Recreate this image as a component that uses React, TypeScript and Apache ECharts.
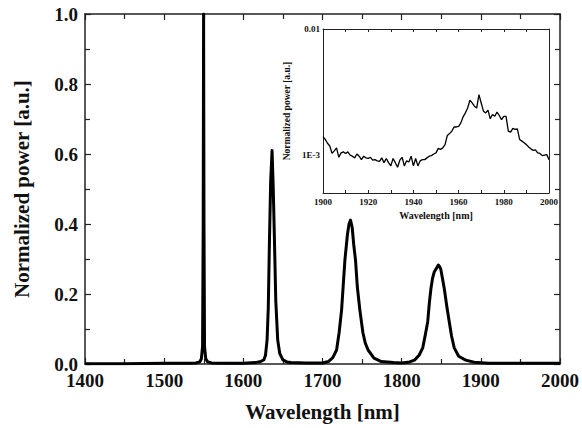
import React, { useEffect, useRef } from "react";
import * as echarts from "echarts";

// Main spectrum (wavelength in nm, normalized power)
const mainWavelength = [
  1400, 1450, 1500, 1530, 1540, 1545, 1547, 1548.5, 1549.3, 1549.8, 1550.3, 1551, 1552.5, 1555, 1560,
  1580, 1600, 1615, 1622, 1626, 1628, 1630, 1631.5, 1633, 1634.5, 1636.3, 1637.8, 1639.3, 1641, 1643.4,
  1646, 1650, 1655, 1660, 1680, 1700, 1707.4, 1713, 1717.8, 1721, 1724.1, 1728.3, 1731.5, 1733.5, 1735.4,
  1737.5, 1739.5, 1741.7, 1744, 1747.2, 1751, 1754, 1757.6, 1765, 1774.3, 1790, 1800, 1810, 1816.2, 1822,
  1826.6, 1830, 1832.9, 1835, 1837, 1839, 1841, 1843, 1844.5, 1846.3, 1848, 1849.5, 1851.5, 1853.8, 1857,
  1860.1, 1863, 1866.4, 1872, 1880.9, 1891.5, 1910, 1950, 2000,
];
const mainPower = [
  0.001, 0.001, 0.002, 0.002, 0.003, 0.006, 0.015, 0.05, 0.4, 1.0, 0.4, 0.05, 0.015, 0.006, 0.003,
  0.002, 0.002, 0.004, 0.007, 0.012, 0.025, 0.069, 0.16, 0.354, 0.52, 0.61, 0.5, 0.354, 0.18, 0.069,
  0.03, 0.012, 0.006, 0.004, 0.003, 0.003, 0.007, 0.018, 0.04, 0.09, 0.154, 0.297, 0.37, 0.4, 0.411,
  0.39, 0.34, 0.297, 0.22, 0.154, 0.09, 0.06, 0.04, 0.017, 0.007, 0.004, 0.003, 0.006, 0.011, 0.025,
  0.046, 0.085, 0.121, 0.175, 0.216, 0.245, 0.262, 0.27, 0.276, 0.283, 0.278, 0.27, 0.245, 0.216, 0.165,
  0.121, 0.08, 0.046, 0.022, 0.011, 0.005, 0.002, 0.002, 0.002,
];

// Inset spectrum (log scale)
const insetWavelength = [
  1900, 1901, 1902, 1903, 1904, 1905, 1906, 1907, 1908, 1909,
  1910, 1911, 1912, 1913, 1914, 1915, 1916, 1917, 1918, 1919,
  1920, 1921, 1922, 1923, 1924, 1925, 1926, 1927, 1928, 1929,
  1930, 1931, 1932, 1933, 1934, 1935, 1936, 1937, 1938, 1939,
  1940, 1941, 1942, 1943, 1944, 1945, 1946, 1947, 1948, 1949,
  1950, 1951, 1952, 1953, 1954, 1955, 1956, 1957, 1958, 1959,
  1960, 1961, 1962, 1963, 1964, 1965, 1966, 1967, 1968, 1969,
  1970, 1971, 1972, 1973, 1974, 1975, 1976, 1977, 1978, 1979,
  1980, 1981, 1982, 1983, 1984, 1985, 1986, 1987, 1988, 1989,
  1990, 1991, 1992, 1993, 1994, 1995, 1996, 1997, 1998, 1999,
  2000,
];
const insetPower = [
  1.40e-3, 1.33e-3, 1.24e-3, 1.18e-3, 1.03e-3, 1.08e-3, 1.14e-3, 0.96e-3, 1.04e-3, 1.06e-3,
  1.03e-3, 1.06e-3, 1.00e-3, 0.98e-3, 0.95e-3, 1.02e-3, 0.98e-3, 0.92e-3, 0.98e-3, 0.95e-3,
  0.94e-3, 0.96e-3, 0.91e-3, 0.92e-3, 0.90e-3, 0.89e-3, 0.95e-3, 0.87e-3, 0.94e-3, 0.87e-3,
  0.82e-3, 0.94e-3, 0.87e-3, 0.80e-3, 0.91e-3, 0.96e-3, 0.82e-3, 0.90e-3, 0.88e-3, 0.98e-3,
  0.82e-3, 0.94e-3, 0.82e-3, 0.90e-3, 0.92e-3, 0.92e-3, 0.95e-3, 0.98e-3, 0.99e-3, 1.02e-3,
  1.04e-3, 1.13e-3, 1.11e-3, 1.14e-3, 1.21e-3, 1.43e-3, 1.48e-3, 1.55e-3, 1.67e-3, 1.67e-3,
  1.69e-3, 1.80e-3, 2.01e-3, 2.16e-3, 2.36e-3, 2.72e-3, 2.59e-3, 2.44e-3, 2.36e-3, 3.01e-3,
  2.59e-3, 2.23e-3, 2.16e-3, 2.27e-3, 1.94e-3, 2.10e-3, 2.03e-3, 2.19e-3, 2.06e-3, 1.91e-3,
  2.03e-3, 2.03e-3, 1.55e-3, 1.52e-3, 1.63e-3, 1.60e-3, 1.61e-3, 1.33e-3, 1.29e-3, 1.25e-3,
  1.21e-3, 1.16e-3, 1.12e-3, 1.09e-3, 1.10e-3, 1.04e-3, 1.03e-3, 0.99e-3, 1.00e-3, 1.01e-3,
  0.92e-3,
];

const FONT = "'Liberation Serif', 'Times New Roman', serif";
const AXIS_COLOR = "#222";

export default function App() {
  const ref = useRef<HTMLDivElement>(null);

  useEffect(() => {
    if (!ref.current) return;
    const chart = echarts.init(ref.current, undefined, { renderer: "svg" });

    const mainData = mainWavelength.map((w, i) => [w, mainPower[i]]);
    const insetData = insetWavelength.map((w, i) => [w, insetPower[i]]);

    const mainLine = { show: true, onZero: false, lineStyle: { color: AXIS_COLOR, width: 1.5 } };
    const insetLine = { show: true, onZero: false, lineStyle: { color: AXIS_COLOR, width: 1 } };
    const plain = (v: number) => String(v);

    chart.setOption({
      animation: false,
      backgroundColor: "#fff",
      grid: [
        { left: 85, right: 19, top: 14, bottom: 64 },
        { left: 323, right: 33, top: 29, bottom: 235 },
      ],
      xAxis: [
        {
          type: "value", gridIndex: 0, min: 1400, max: 2000, interval: 100, position: "bottom",
          axisLine: mainLine,
          axisTick: { show: true, inside: true, length: 6, lineStyle: { color: AXIS_COLOR, width: 1.2 } },
          minorTick: { show: true, splitNumber: 2, length: 5, lineStyle: { color: AXIS_COLOR, width: 1.2 } },
          splitLine: { show: false },
          axisLabel: {
            color: "#111", fontFamily: FONT, fontWeight: "bold", fontSize: 19, margin: 10,
            lineHeight: 12, formatter: plain,
          },
          name: "Wavelength [nm]", nameLocation: "middle", nameGap: 37,
          nameTextStyle: { color: "#111", fontFamily: FONT, fontWeight: "bold", fontSize: 21 },
        },
        {
          type: "value", gridIndex: 0, min: 1400, max: 2000, interval: 100, position: "top",
          axisLine: mainLine,
          axisTick: { show: true, inside: true, length: 6, lineStyle: { color: AXIS_COLOR, width: 1.2 } },
          minorTick: { show: true, splitNumber: 2, length: 5, lineStyle: { color: AXIS_COLOR, width: 1.2 } },
          splitLine: { show: false },
          axisLabel: { show: false },
        },
        {
          type: "value", gridIndex: 1, min: 1900, max: 2000, interval: 20, position: "bottom",
          axisLine: insetLine,
          axisTick: { show: true, inside: true, length: 3, lineStyle: { color: AXIS_COLOR, width: 1 } },
          minorTick: { show: true, splitNumber: 2, length: 3, lineStyle: { color: AXIS_COLOR, width: 1 } },
          splitLine: { show: false },
          axisLabel: {
            color: "#111", fontFamily: FONT, fontWeight: "bold", fontSize: 9, margin: 4, formatter: plain,
          },
          name: "Wavelength [nm]", nameLocation: "middle", nameGap: 17,
          nameTextStyle: { color: "#111", fontFamily: FONT, fontWeight: "bold", fontSize: 10 },
        },
        {
          type: "value", gridIndex: 1, min: 1900, max: 2000, interval: 20, position: "top",
          axisLine: insetLine,
          axisTick: { show: true, inside: true, length: 3, lineStyle: { color: AXIS_COLOR, width: 1 } },
          minorTick: { show: true, splitNumber: 2, length: 3, lineStyle: { color: AXIS_COLOR, width: 1 } },
          splitLine: { show: false },
          axisLabel: { show: false },
        },
      ],
      yAxis: [
        {
          type: "value", gridIndex: 0, min: 0, max: 1, interval: 0.2, position: "left",
          axisLine: mainLine,
          axisTick: { show: true, inside: true, length: 6, lineStyle: { color: AXIS_COLOR, width: 1.2 } },
          minorTick: { show: true, splitNumber: 2, length: 5, lineStyle: { color: AXIS_COLOR, width: 1.2 } },
          splitLine: { show: false },
          axisLabel: {
            color: "#111", fontFamily: FONT, fontWeight: "bold", fontSize: 19, margin: 7, lineHeight: 12,
            formatter: (v: number) => v.toFixed(1),
          },
          name: "Normalized power [a.u.]", nameLocation: "middle", nameGap: 53,
          nameTextStyle: { color: "#111", fontFamily: FONT, fontWeight: "bold", fontSize: 21 },
        },
        {
          type: "value", gridIndex: 0, min: 0, max: 1, interval: 0.2, position: "right",
          axisLine: mainLine,
          axisTick: { show: true, inside: true, length: 6, lineStyle: { color: AXIS_COLOR, width: 1.2 } },
          minorTick: { show: true, splitNumber: 2, length: 5, lineStyle: { color: AXIS_COLOR, width: 1.2 } },
          splitLine: { show: false },
          axisLabel: { show: false },
        },
        {
          type: "log", logBase: 10, gridIndex: 1, min: 0.0005, max: 0.01, position: "left",
          axisLine: insetLine,
          axisTick: { show: false },
          splitLine: { show: false },
          axisLabel: {
            color: "#111", fontFamily: FONT, fontWeight: "bold", fontSize: 9, margin: 3,
            formatter: (v: number) => {
              const l = Math.log10(v);
              if (Math.abs(l + 2) < 0.01) return "0.01";
              if (Math.abs(l + 3) < 0.01) return "1E-3";
              return "";
            },
          },
          name: "Normalized power [a.u.]", nameLocation: "middle", nameGap: 31,
          nameTextStyle: { color: "#111", fontFamily: FONT, fontWeight: "bold", fontSize: 9.5 },
        },
        {
          type: "log", logBase: 10, gridIndex: 1, min: 0.0005, max: 0.01, position: "right",
          axisLine: insetLine,
          axisTick: { show: false },
          splitLine: { show: false },
          axisLabel: { show: false },
        },
      ],
      series: [
        {
          type: "line", xAxisIndex: 0, yAxisIndex: 0, data: mainData,
          showSymbol: false, symbol: "none",
          lineStyle: { color: "#000", width: 3, join: "round" },
        },
        {
          type: "line", xAxisIndex: 2, yAxisIndex: 2, data: insetData,
          showSymbol: false, symbol: "none",
          lineStyle: { color: "#000", width: 1.3 },
        },
      ],
    });

    return () => chart.dispose();
  }, []);

  return (
    <div
      ref={ref}
      style={{ position: "fixed", left: 0, top: 0, width: 582, height: 428, background: "#fff" }}
    />
  );
}
